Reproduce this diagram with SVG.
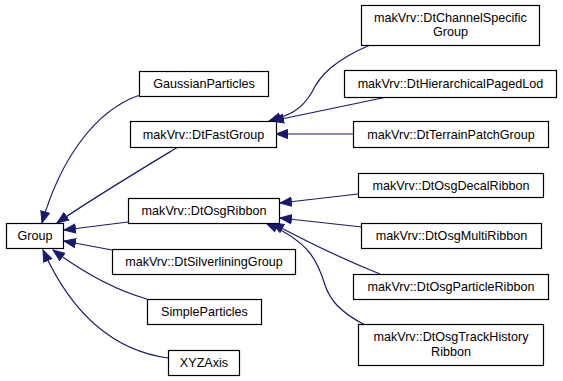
<svg xmlns="http://www.w3.org/2000/svg" width="563" height="381" viewBox="0 0 563 381">
<style>
.n rect{fill:#fff;stroke:#000;stroke-width:1.2}
.n text{font-family:"Liberation Sans",Arial,sans-serif;font-size:12.6px;text-anchor:middle;fill:#000}
.e path{fill:none;stroke:#191970;stroke-width:1.2}
</style>
<defs>
<marker id="a" markerUnits="userSpaceOnUse" markerWidth="14" markerHeight="12" refX="12" refY="6" orient="auto" viewBox="0 0 14 12">
<path d="M0.5,1.5 L12,6 L0.5,10.5 z" fill="#191970" stroke="#191970"/>
</marker>
</defs>
<rect width="563" height="381" fill="#fff"/>
<g class="e" id="edges">
<path marker-end="url(#a)" d="M140,95 C95,110 60,160 42,223"/>
<path marker-end="url(#a)" d="M178,147 C140,170 90,200 57,223"/>
<path marker-end="url(#a)" d="M128,222 L64,230"/>
<path marker-end="url(#a)" d="M112,250 L64,241"/>
<path marker-end="url(#a)" d="M147,299 C115,290 80,270 53,250"/>
<path marker-end="url(#a)" d="M168,358 C110,350 70,310 43,250"/>
<path marker-end="url(#a)" d="M370,45 C335,60 320,75 312,92 C300,113 285,116 269,121"/>
<path marker-end="url(#a)" d="M387,97 L272,121"/>
<path marker-end="url(#a)" d="M353,134 L276,134"/>
<path marker-end="url(#a)" d="M358,194 L280,203"/>
<path marker-end="url(#a)" d="M362,227 L280,218"/>
<path marker-end="url(#a)" d="M380,274 C340,258 300,238 272,223"/>
<path marker-end="url(#a)" d="M365,325 C340,312 330,300 325,285 C318,262 310,242 266,223"/>
</g>
<g class="n" id="Group"><rect x="6.5" y="223.5" width="57" height="25"/><text x="35" y="240">Group</text></g>
<g class="n" id="GaussianParticles"><rect x="139.5" y="71.5" width="129" height="25"/><text x="204" y="88">GaussianParticles</text></g>
<g class="n" id="DtFastGroup"><rect x="130.5" y="121.5" width="146" height="26"/><text x="203.5" y="138.5">makVrv::DtFastGroup</text></g>
<g class="n" id="DtOsgRibbon"><rect x="128.5" y="198.5" width="151" height="25"/><text x="204" y="215">makVrv::DtOsgRibbon</text></g>
<g class="n" id="DtSilverliningGroup"><rect x="112.5" y="249.5" width="183" height="25"/><text x="204" y="266">makVrv::DtSilverliningGroup</text></g>
<g class="n" id="SimpleParticles"><rect x="147.5" y="299.5" width="114" height="25"/><text x="204.5" y="316">SimpleParticles</text></g>
<g class="n" id="XYZAxis"><rect x="168.5" y="350.5" width="71" height="25"/><text x="204" y="367">XYZAxis</text></g>
<g class="n" id="DtChannelSpecificGroup"><rect x="361.5" y="5.5" width="178" height="40"/><text x="450.5" y="21.5">makVrv::DtChannelSpecific</text><text x="450.5" y="36">Group</text></g>
<g class="n" id="DtHierarchicalPagedLod"><rect x="344.5" y="70.5" width="212" height="27"/><text x="450.5" y="88">makVrv::DtHierarchicalPagedLod</text></g>
<g class="n" id="DtTerrainPatchGroup"><rect x="353.5" y="121.5" width="195" height="26"/><text x="451" y="138.5">makVrv::DtTerrainPatchGroup</text></g>
<g class="n" id="DtOsgDecalRibbon"><rect x="358.5" y="173.5" width="185" height="24"/><text x="451" y="189.5">makVrv::DtOsgDecalRibbon</text></g>
<g class="n" id="DtOsgMultiRibbon"><rect x="361.5" y="223.5" width="180" height="25"/><text x="451.5" y="240">makVrv::DtOsgMultiRibbon</text></g>
<g class="n" id="DtOsgParticleRibbon"><rect x="353.5" y="274.5" width="195" height="25"/><text x="451" y="291">makVrv::DtOsgParticleRibbon</text></g>
<g class="n" id="DtOsgTrackHistoryRibbon"><rect x="358.5" y="324.5" width="185" height="41"/><text x="451" y="340.5">makVrv::DtOsgTrackHistory</text><text x="451" y="355.5">Ribbon</text></g>
</svg>
